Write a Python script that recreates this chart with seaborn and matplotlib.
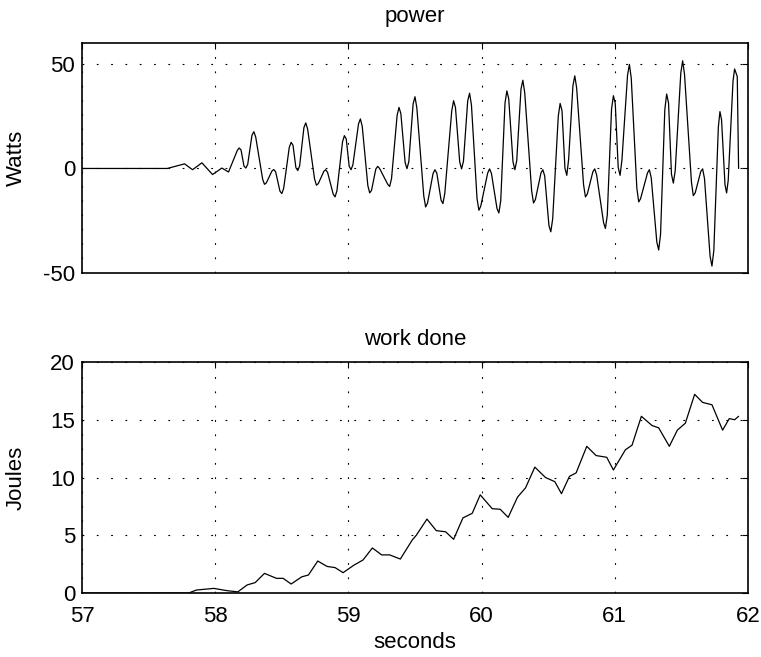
import matplotlib
matplotlib.use("Agg")
import matplotlib.pyplot as plt
import pandas as pd
import seaborn as sns

# ---- data (power: extrema plus shoulder points) ----
power_t = [57.00, 57.64, 57.77, 57.83, 57.90, 57.98, 58.05, 58.10,
           58.166, 58.18, 58.194, 58.216, 58.23, 58.244, 58.276, 58.29, 58.304,
           58.356, 58.37, 58.384, 58.426, 58.44, 58.454, 58.486, 58.50, 58.514,
           58.556, 58.57, 58.584, 58.606, 58.62, 58.634, 58.666, 58.68, 58.694,
           58.746, 58.76, 58.774, 58.816, 58.83, 58.844, 58.886, 58.90, 58.914,
           58.956, 58.97, 58.984, 59.006, 59.02, 59.034, 59.076, 59.09, 59.104,
           59.146, 59.16, 59.174, 59.206, 59.22, 59.234, 59.296, 59.31, 59.324,
           59.366, 59.38, 59.394, 59.426, 59.44, 59.454, 59.486, 59.50, 59.514,
           59.566, 59.58, 59.594, 59.636, 59.65, 59.664, 59.696, 59.71, 59.724,
           59.776, 59.79, 59.804, 59.836, 59.85, 59.864, 59.896, 59.91, 59.924,
           59.966, 59.98, 59.994, 60.046, 60.06, 60.074, 60.116, 60.13, 60.144,
           60.176, 60.19, 60.204, 60.236, 60.25, 60.264, 60.296, 60.31, 60.324,
           60.376, 60.39, 60.404, 60.446, 60.46, 60.474, 60.506, 60.52, 60.534,
           60.576, 60.59, 60.604, 60.626, 60.64, 60.654, 60.686, 60.70, 60.714,
           60.766, 60.78, 60.794, 60.836, 60.85, 60.864, 60.916, 60.93, 60.944,
           60.976, 60.99, 61.004, 61.026, 61.04, 61.054, 61.096, 61.11, 61.124,
           61.166, 61.18, 61.194, 61.246, 61.26, 61.274, 61.316, 61.33, 61.344,
           61.376, 61.39, 61.404, 61.426, 61.44, 61.454, 61.496, 61.51, 61.524,
           61.576, 61.59, 61.604, 61.646, 61.66, 61.674, 61.716, 61.73, 61.744,
           61.778, 61.79, 61.802, 61.828, 61.84, 61.852, 61.888, 61.90, 61.92,
           61.93]
power_w = [0.0, 0.0, 2.2, -0.6, 2.7, -2.9, 0.2, -1.7,
           8.65, 9.8, 8.84, 1.16, 0.2, 1.94, 15.86, 17.6, 15.08,
           -5.08, -7.6, -6.89, -1.21, -0.5, -1.65, -10.85, -12.0, -9.55,
           10.05, 12.5, 11.15, 0.35, -1.0, 1.28, 19.52, 21.8, 18.82,
           -5.02, -8.0, -7.26, -1.34, -0.6, -1.9, -12.3, -13.6, -10.67,
           12.77, 15.7, 14.07, 1.03, -0.6, 1.83, 21.27, 23.7, 20.16,
           -8.16, -11.7, -10.43, -0.27, 1.0, 0.04, -7.64, -8.6, -4.82,
           25.42, 29.2, 26.27, 2.83, -0.1, 3.34, 30.86, 34.3, 29.03,
           -13.13, -18.4, -16.62, -2.38, -0.6, -2.22, -15.18, -16.8, -11.88,
           27.48, 32.4, 29.14, 3.06, -0.2, 3.42, 32.38, 36.0, 30.4,
           -14.4, -20.0, -18.02, -2.18, -0.2, -2.31, -19.19, -21.3, -15.46,
           31.26, 37.1, 33.33, 3.17, -0.6, 3.68, 37.92, 42.2, 36.33,
           -10.63, -16.5, -14.91, -2.19, -0.6, -3.57, -27.33, -30.3, -24.16,
           24.96, 31.1, 27.66, 0.14, -3.3, 4.46, 39.54, 44.3, 38.51,
           -7.81, -13.6, -12.26, -1.54, -0.2, -3.05, -25.85, -28.7, -22.35,
           28.45, 34.8, 30.99, 0.51, -3.3, 4.01, 44.49, 49.8, 43.22,
           -9.42, -16.0, -14.46, -2.14, -0.6, -4.44, -35.16, -39.0, -31.54,
           28.14, 35.6, 31.34, -2.74, -7.0, -1.15, 45.65, 51.5, 45.05,
           -6.55, -13.0, -11.72, -1.48, -0.2, -4.85, -42.05, -46.7, -39.31,
           19.81, 27.2, 23.31, -7.81, -11.7, -5.77, 41.67, 47.6, 44.0,
           0.0]

work_t = [57.00, 57.80, 57.86, 57.99, 58.09, 58.17, 58.24, 58.30, 58.37, 58.46,
          58.51, 58.57, 58.65, 58.70, 58.77, 58.84, 58.90, 58.96, 59.04, 59.11,
          59.18, 59.25, 59.31, 59.39, 59.48, 59.51, 59.59, 59.66, 59.73, 59.79,
          59.86, 59.93, 59.99, 60.08, 60.14, 60.20, 60.27, 60.33, 60.40, 60.48,
          60.55, 60.60, 60.66, 60.71, 60.79, 60.86, 60.94, 60.99, 61.08, 61.13,
          61.20, 61.28, 61.33, 61.41, 61.47, 61.53, 61.60, 61.66, 61.73, 61.81,
          61.86, 61.90, 61.93]
work_j = [0.0, 0.0, 0.26, 0.4, 0.2, 0.1, 0.7, 0.9, 1.7, 1.27,
          1.27, 0.78, 1.4, 1.56, 2.77, 2.3, 2.2, 1.76, 2.4, 2.86,
          3.9, 3.3, 3.3, 2.94, 4.6, 5.0, 6.4, 5.4, 5.3, 4.65,
          6.5, 6.9, 8.5, 7.3, 7.25, 6.55, 8.3, 9.1, 10.9, 10.0,
          9.64, 8.6, 10.1, 10.4, 12.7, 11.9, 11.75, 10.65, 12.4, 12.8,
          15.3, 14.5, 14.3, 12.7, 14.1, 14.7, 17.2, 16.5, 16.3, 14.1,
          15.1, 15.0, 15.3]

x_ticks = [57, 58, 59, 60, 61, 62]
power_yticks = [-50, 0, 50]
work_yticks = [0, 5, 10, 15, 20]

# ---- style ----
sns.set_style("white")
plt.rcParams['font.family'] = ['Liberation Sans', 'DejaVu Sans']
plt.rcParams['axes.unicode_minus'] = False
plt.rcParams['lines.scale_dashes'] = False
plt.rcParams['text.color'] = 'black'
plt.rcParams['axes.labelcolor'] = 'black'
plt.rcParams['xtick.color'] = 'black'
plt.rcParams['ytick.color'] = 'black'

fig = plt.figure(figsize=(7.61, 6.57), dpi=100)
ax1 = fig.add_axes([0.1078, 0.5845, 0.875, 0.350])
ax2 = fig.add_axes([0.1078, 0.0974, 0.875, 0.3516])

df_p = pd.DataFrame({'t': power_t, 'P': power_w})
df_w = pd.DataFrame({'t': work_t, 'W': work_j})
sns.lineplot(data=df_p, x='t', y='P', ax=ax1, color='black', linewidth=0.9,
             estimator=None, sort=False)
sns.lineplot(data=df_w, x='t', y='W', ax=ax2, color='black', linewidth=0.9,
             estimator=None, sort=False)

FS = 16
for ax in (ax1, ax2):
    ax.set_xlim(57, 62)
    ax.set_xticks(x_ticks)
    ax.grid(True, color='black', linestyle=(0, (1.3, 9.0)), linewidth=0.8)
    ax.tick_params(direction='in', top=True, right=True, length=4, width=0.8,
                   labelsize=FS, pad=5, colors='black')
    ax.tick_params(axis='x', pad=9)
    for s in ax.spines.values():
        s.set_linewidth(1.2)
        s.set_color('black')

ax1.set_ylim(-50, 60)
ax1.set_yticks(power_yticks)
ax1.set_xticklabels([])
ax1.set_xlabel('')
ax1.set_ylabel('Watts', fontsize=FS, color='black')
ax1.yaxis.set_label_coords(-0.083, 0.5)
ax1.set_title('power', fontsize=FS, pad=15, color='black')

ax2.set_ylim(0, 20)
ax2.set_yticks(work_yticks)
ax2.set_xlabel('seconds', fontsize=FS, labelpad=4, color='black')
ax2.set_ylabel('Joules', fontsize=FS, color='black')
ax2.yaxis.set_label_coords(-0.083, 0.5)
ax2.set_title('work done', fontsize=FS, pad=12, color='black')

fig.savefig('out.png', dpi=100)
